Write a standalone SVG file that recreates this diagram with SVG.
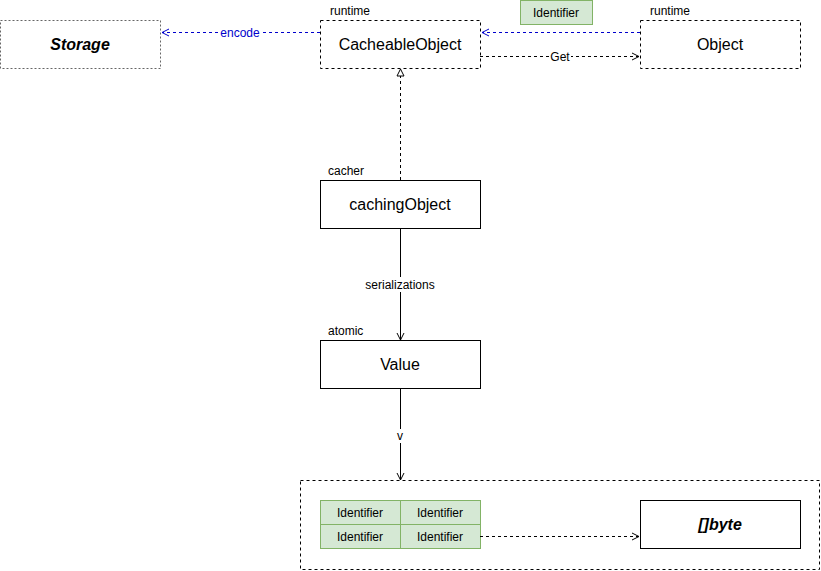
<svg xmlns="http://www.w3.org/2000/svg" width="821" height="571" viewBox="0 0 821 571">
<style>
text{font-family:"Liberation Sans",Arial,sans-serif;fill:#000}
.big{font-size:16px;text-anchor:middle}
.sm{font-size:12px}
.mid{text-anchor:middle}
.dash{fill:#fff;stroke:#000;stroke-dasharray:3 3}
.solid{fill:#fff;stroke:#000}
.green{fill:#d5e8d4;stroke:#82b366}
.edge{fill:none;stroke:#000}
.d{stroke-dasharray:3 3}
.blue{stroke:#0000cc}
.lblbg{fill:#fff}
</style>
<defs>
<marker id="open" markerWidth="10" markerHeight="10" refX="8" refY="5" orient="auto" markerUnits="userSpaceOnUse">
<path d="M1,1.5 L8,5 L1,8.5" fill="none" stroke="#000"/>
</marker>
<marker id="openb" markerWidth="10" markerHeight="10" refX="8" refY="5" orient="auto" markerUnits="userSpaceOnUse">
<path d="M1,1.5 L8,5 L1,8.5" fill="none" stroke="#0000cc"/>
</marker>
<marker id="tri" markerWidth="10" markerHeight="10" refX="8" refY="5" orient="auto" markerUnits="userSpaceOnUse">
<path d="M1,1.5 L8,5 L1,8.5 Z" fill="#fff" stroke="#000"/>
</marker>
</defs>
<g id="container">
<rect x="300.5" y="480.5" width="519" height="89" class="dash"/>
</g>
<g id="storage">
<rect x="0.5" y="20.5" width="160" height="48" fill="#fff" stroke="#666" stroke-dasharray="2 2"/>
<text x="80" y="50" class="big" font-weight="bold" font-style="italic">Storage</text>
</g>
<g id="cacheableObject">
<text x="330" y="15" class="sm">runtime</text>
<rect x="320.5" y="20.5" width="160" height="48" class="dash"/>
<text x="400" y="50" class="big">CacheableObject</text>
</g>
<g id="object">
<text x="650" y="15" class="sm">runtime</text>
<rect x="640.5" y="20.5" width="160" height="48" class="dash"/>
<text x="720" y="50" class="big">Object</text>
</g>
<g id="identifierTop">
<rect x="520.5" y="0.5" width="72" height="24" class="green"/>
<text x="556" y="17" class="sm mid">Identifier</text>
</g>
<g id="cachingObject">
<text x="328" y="175" class="sm">cacher</text>
<rect x="320.5" y="180.5" width="160" height="48" class="solid"/>
<text x="400" y="210" class="big">cachingObject</text>
</g>
<g id="value">
<text x="328" y="335" class="sm">atomic</text>
<rect x="320.5" y="340.5" width="160" height="48" class="solid"/>
<text x="400" y="370" class="big">Value</text>
</g>
<g id="identifiers">
<rect x="320.5" y="500.5" width="80" height="24" class="green"/>
<rect x="400.5" y="500.5" width="80" height="24" class="green"/>
<rect x="320.5" y="524.5" width="80" height="24" class="green"/>
<rect x="400.5" y="524.5" width="80" height="24" class="green"/>
<text x="360" y="517" class="sm mid">Identifier</text>
<text x="440" y="517" class="sm mid">Identifier</text>
<text x="360" y="541" class="sm mid">Identifier</text>
<text x="440" y="541" class="sm mid">Identifier</text>
</g>
<g id="byte">
<rect x="640.5" y="500.5" width="160" height="48" class="solid"/>
<text x="720" y="530" class="big" font-weight="bold" font-style="italic">[]byte</text>
</g>
<g id="connectors">
<path d="M320,32.5 H162" class="edge d blue" marker-end="url(#openb)"/>
<rect x="219" y="25" width="42" height="15" class="lblbg"/>
<text x="240" y="37" class="sm mid" style="fill:#0000cc">encode</text>
<path d="M640,32.5 H482" class="edge d blue" marker-end="url(#openb)"/>
<path d="M480,56.5 H639" class="edge d" marker-end="url(#open)"/>
<rect x="549" y="49" width="22" height="15" class="lblbg"/>
<text x="560" y="61" class="sm mid">Get</text>
<path d="M400.5,180 V69" class="edge d" marker-end="url(#tri)"/>
<path d="M400.5,228 V340" class="edge" marker-end="url(#open)"/>
<rect x="365" y="277" width="71" height="15" class="lblbg"/>
<text x="400" y="289" class="sm mid">serializations</text>
<path d="M400.5,388 V480" class="edge" marker-end="url(#open)"/>
<rect x="395" y="429" width="11" height="14" class="lblbg"/>
<text x="400" y="440" class="sm mid">v</text>
<path d="M480,536.5 H639" class="edge d" marker-end="url(#open)"/>
</g>
</svg>
